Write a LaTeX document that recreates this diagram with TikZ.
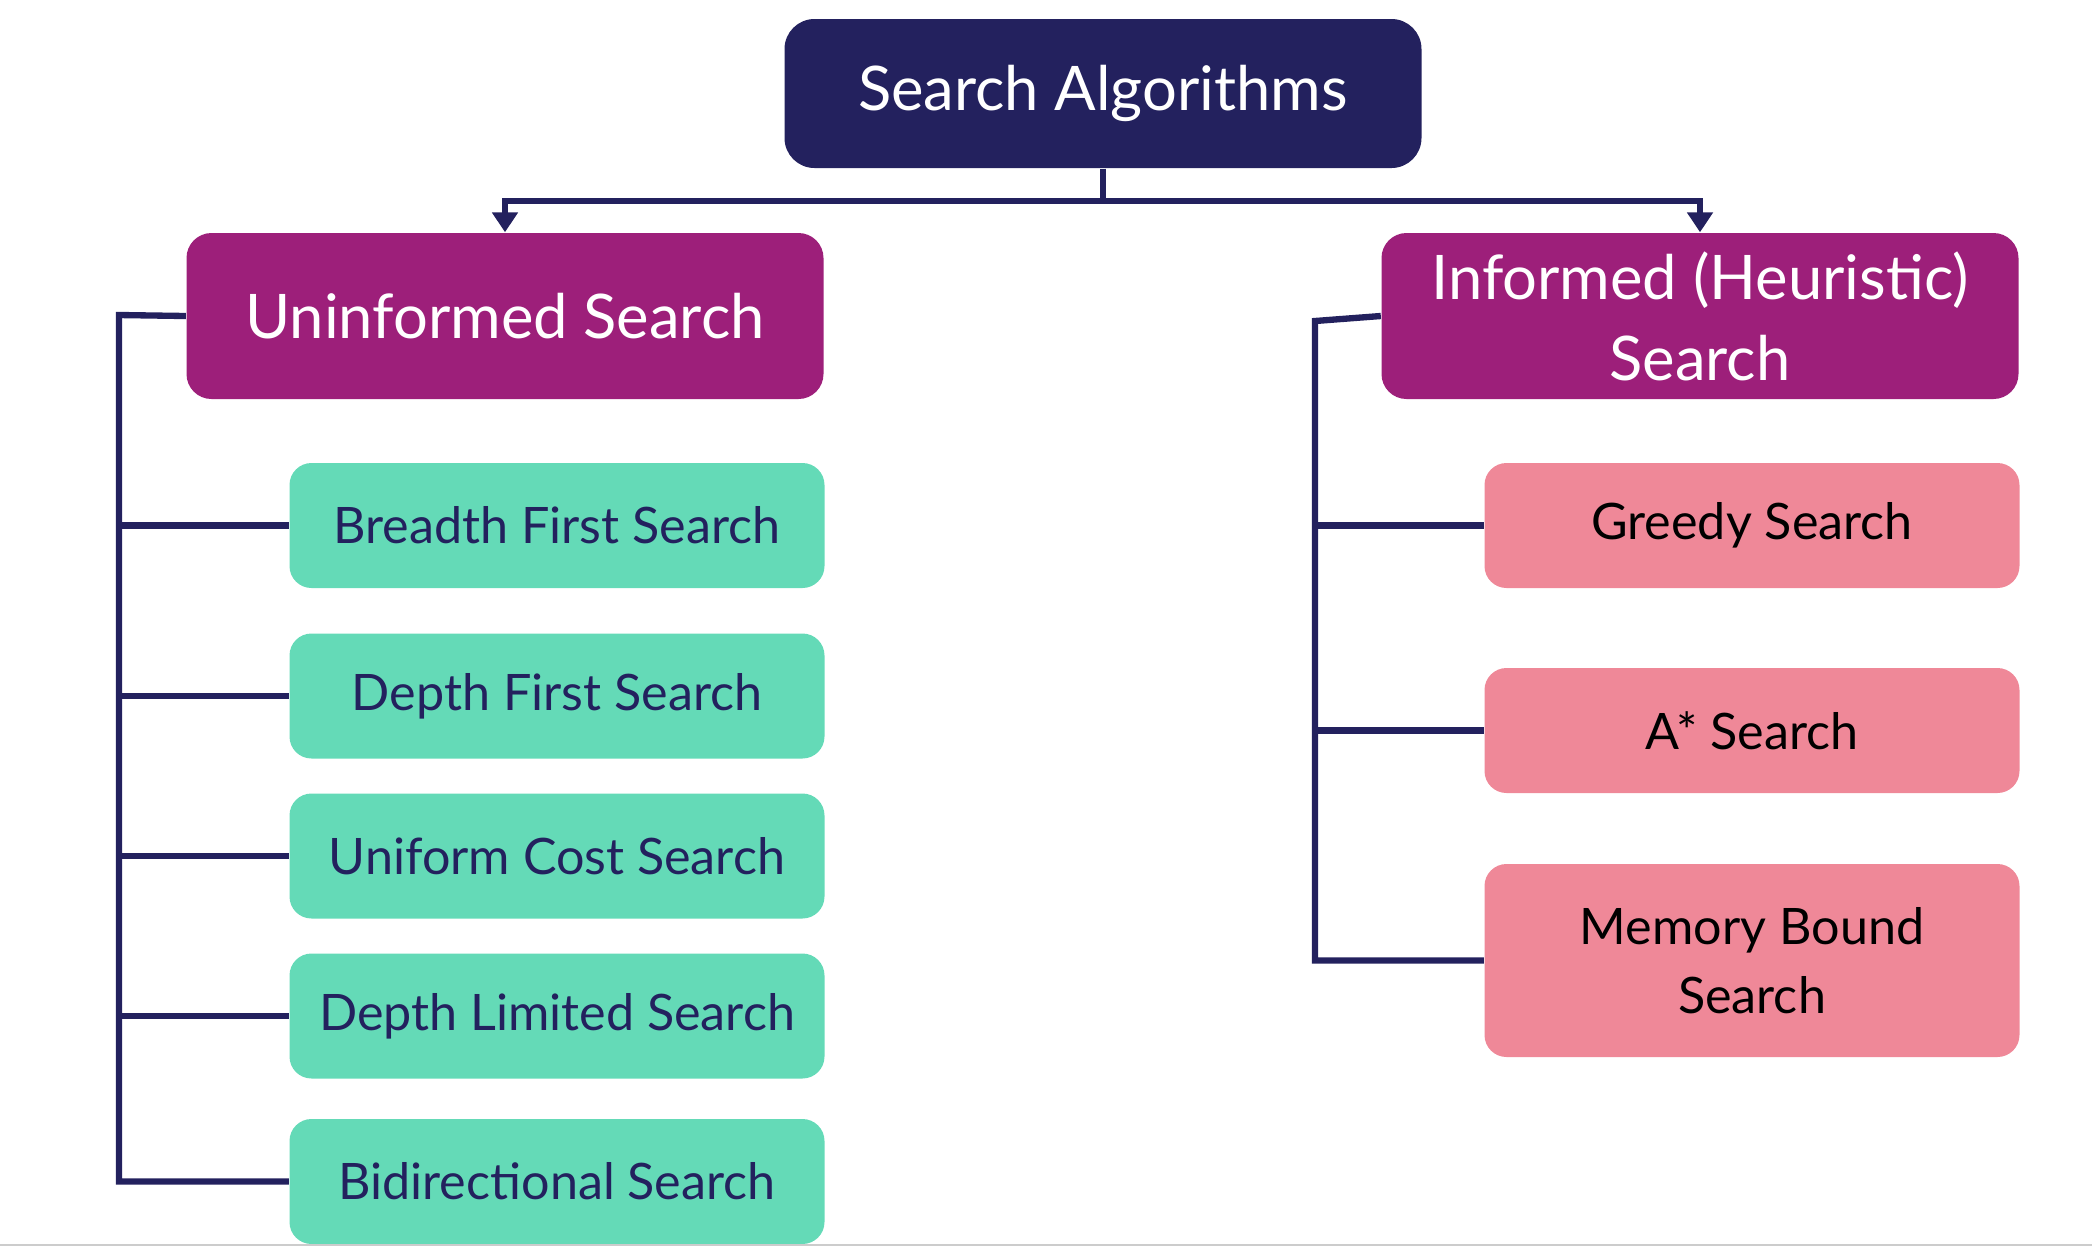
\documentclass[tikz,border=0pt]{standalone}
\usepackage{fontspec}
\setmainfont{Lato}
\usepackage{tikz}
\usetikzlibrary{positioning, arrows.meta, calc}

\definecolor{navy}{RGB}{35,33,94}
\definecolor{plum}{RGB}{157,31,122}
\definecolor{mint}{RGB}{100,218,183}
\definecolor{rose}{RGB}{239,136,152}

\tikzset{
	rootbox/.style = {fill=navy, text=white, rounded corners=0.3cm, minimum width=6.37cm,
		minimum height=1.49cm, font=\fontsize{17.5}{22}\selectfont},
	catbox/.style = {fill=plum, text=white, rounded corners=0.25cm, minimum width=6.37cm,
		minimum height=1.66cm, align=center, font=\fontsize{17.5}{23}\selectfont},
	leafgreen/.style = {fill=mint, text=navy, rounded corners=0.22cm, minimum width=5.35cm,
		minimum height=1.25cm, align=center, font=\fontsize{14.3}{19.5}\selectfont},
	leafpink/.style = {fill=rose, text=black, rounded corners=0.22cm, minimum width=5.35cm,
		minimum height=1.25cm, align=center, font=\fontsize{14.3}{19.5}\selectfont},
	link/.style = {draw=navy, line width=1.8pt},
	arrowlink/.style = {link, -{Triangle[width=0.25cm,length=0.2cm]}}
}

\begin{document}
\begin{tikzpicture}

	\useasboundingbox (0,0) rectangle (20.92,-12.46);

	% Root
	\node[rootbox] (root) at (11.03,-0.935) {Search Algorithms};

	% Categories
	\node[catbox] (uninformed) at (5.05,-3.16) {Uninformed Search};
	\node[catbox] (informed) at (17.00,-3.16) {Informed (Heuristic)\\Search};

	% Uninformed methods
	\node[leafgreen] (bfs) at (5.57,-5.255) {Breadth First Search};
	\node[leafgreen] (dfs) at (5.57,-6.96) {Depth First Search};
	\node[leafgreen] (ucs) at (5.57,-8.56) {Uniform Cost Search};
	\node[leafgreen] (dls) at (5.57,-10.16) {Depth Limited Search};
	\node[leafgreen] (bidir) at (5.57,-11.815) {Bidirectional Search};

	% Informed methods
	\node[leafpink] (greedy) at (17.52,-5.255) {Greedy Search};
	\node[leafpink] (astar) at (17.52,-7.305) {A* Search};
	\node[leafpink, minimum height=1.93cm] (memory) at (17.52,-9.605) {Memory Bound\\Search};

	% Connections
	\coordinate (split) at ($(root.south) + (0,-0.32)$);
	\draw[link] (root.south) -- (split);
	\draw[arrowlink] (split) -| (uninformed.north);
	\draw[arrowlink] (split) -| (informed.north);

	\coordinate (lspine) at (1.19,-3.15);
	\draw[link] (uninformed.west) -- (lspine) |- (bidir.west);
	\foreach \n in {bfs, dfs, ucs, dls}
		\draw[link] (lspine |- \n.west) -- (\n.west);

	\coordinate (rspine) at (13.15,-3.21);
	\draw[link] (informed.west) -- (rspine) |- (memory.west);
	\foreach \n in {greedy, astar}
		\draw[link] (rspine |- \n.west) -- (\n.west);

	\draw[gray!40, line width=0.6pt] (0,-12.45) -- (20.92,-12.45);

\end{tikzpicture}
\end{document}
